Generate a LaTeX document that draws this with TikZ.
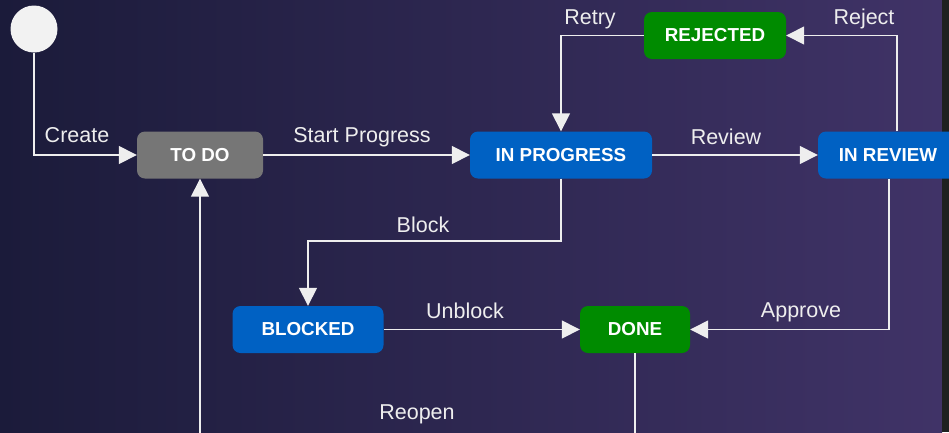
\documentclass[tikz,border=0pt]{standalone}
\usepackage{fontspec}
\setmainfont{Liberation Sans}
\usetikzlibrary{arrows.meta,shadings}
\definecolor{bgleft}{HTML}{1B1B3A}
\definecolor{bgmid}{HTML}{2A2C5A}
\definecolor{bgright}{HTML}{403367}
\definecolor{edgestrip}{HTML}{1E2121}
\definecolor{stgray}{HTML}{767676}
\definecolor{stblue}{HTML}{0061C3}
\definecolor{stgreen}{HTML}{008B00}
\definecolor{wire}{HTML}{EEEEEE}
\tikzset{
  state/.style={rounded corners=8pt, minimum height=47pt, inner sep=0pt,
    text=white, font=\fontsize{18.8}{20}\selectfont\bfseries},
  todostate/.style={state, fill=stgray},
  bluestate/.style={state, fill=stblue},
  greenstate/.style={state, fill=stgreen},
  flow/.style={draw=wire, line width=1.5pt,
    -{Triangle[length=18pt,width=18pt]}},
  lbl/.style={text=wire, font=\fontsize{21.5}{23}\selectfont, inner sep=0pt}
}
\begin{document}
\begin{tikzpicture}[x=1pt,y=-1pt]
  \clip (0,0) rectangle (949,432);
  % background
  \shade[left color=bgleft, middle color=bgmid, right color=bgright]
    (0,0) rectangle (942,432);
  \fill[edgestrip] (942,0) rectangle (949,432);

  % states
  \node[circle, fill=white!95!black, minimum size=47pt, inner sep=0pt] (init) at (34,29) {};
  \node[todostate, minimum width=126pt] (todo) at (200,155) {TO DO};
  \node[bluestate, minimum width=182pt] (inprog) at (561,155) {IN PROGRESS};
  \node[bluestate, minimum width=140pt] (inrev) at (888,155) {IN REVIEW};
  \node[greenstate, minimum width=142pt] (rej) at (715,35.5) {REJECTED};
  \node[bluestate, minimum width=151pt] (blocked) at (308,329.5) {BLOCKED};
  \node[greenstate, minimum width=110pt] (done) at (635,329.5) {DONE};

  % transitions
  \draw[flow] (init.south) |- (todo.west);
  \draw[flow] (todo.east) -- (inprog.west);
  \draw[flow] (inprog.east) -- (inrev.west);
  \draw[flow] ([xshift=9pt]inrev.north) |- (rej.east);
  \draw[flow] (rej.west) -| (inprog.north);
  \draw[flow] (inprog.south) -- (inprog.south |- 0,241) -| (blocked.north);
  \draw[flow] (blocked.east) -- (done.west);
  \draw[flow] ([xshift=1pt]inrev.south) |- (done.east);
  \draw[flow] (done.south) -- (done.south |- 0,470) -| (todo.south);

  % transition labels
  \node[lbl] (lcreate) at (77,135) {Create};
  \node[lbl] (lstart) at (362,137) {Start Progress};
  \node[lbl] (lreview) at (726,137) {Review};
  \node[lbl] (lretry) at (590,19) {Retry};
  \node[lbl] (lreject) at (864,19) {Reject};
  \node[lbl] (lblock) at (423,225) {Block};
  \node[lbl] (lunblock) at (465,311) {Unblock};
  \node[lbl] (lapprove) at (801,312) {Approve};
  \node[lbl] (lreopen) at (417,414) {Reopen};
\end{tikzpicture}
\end{document}
